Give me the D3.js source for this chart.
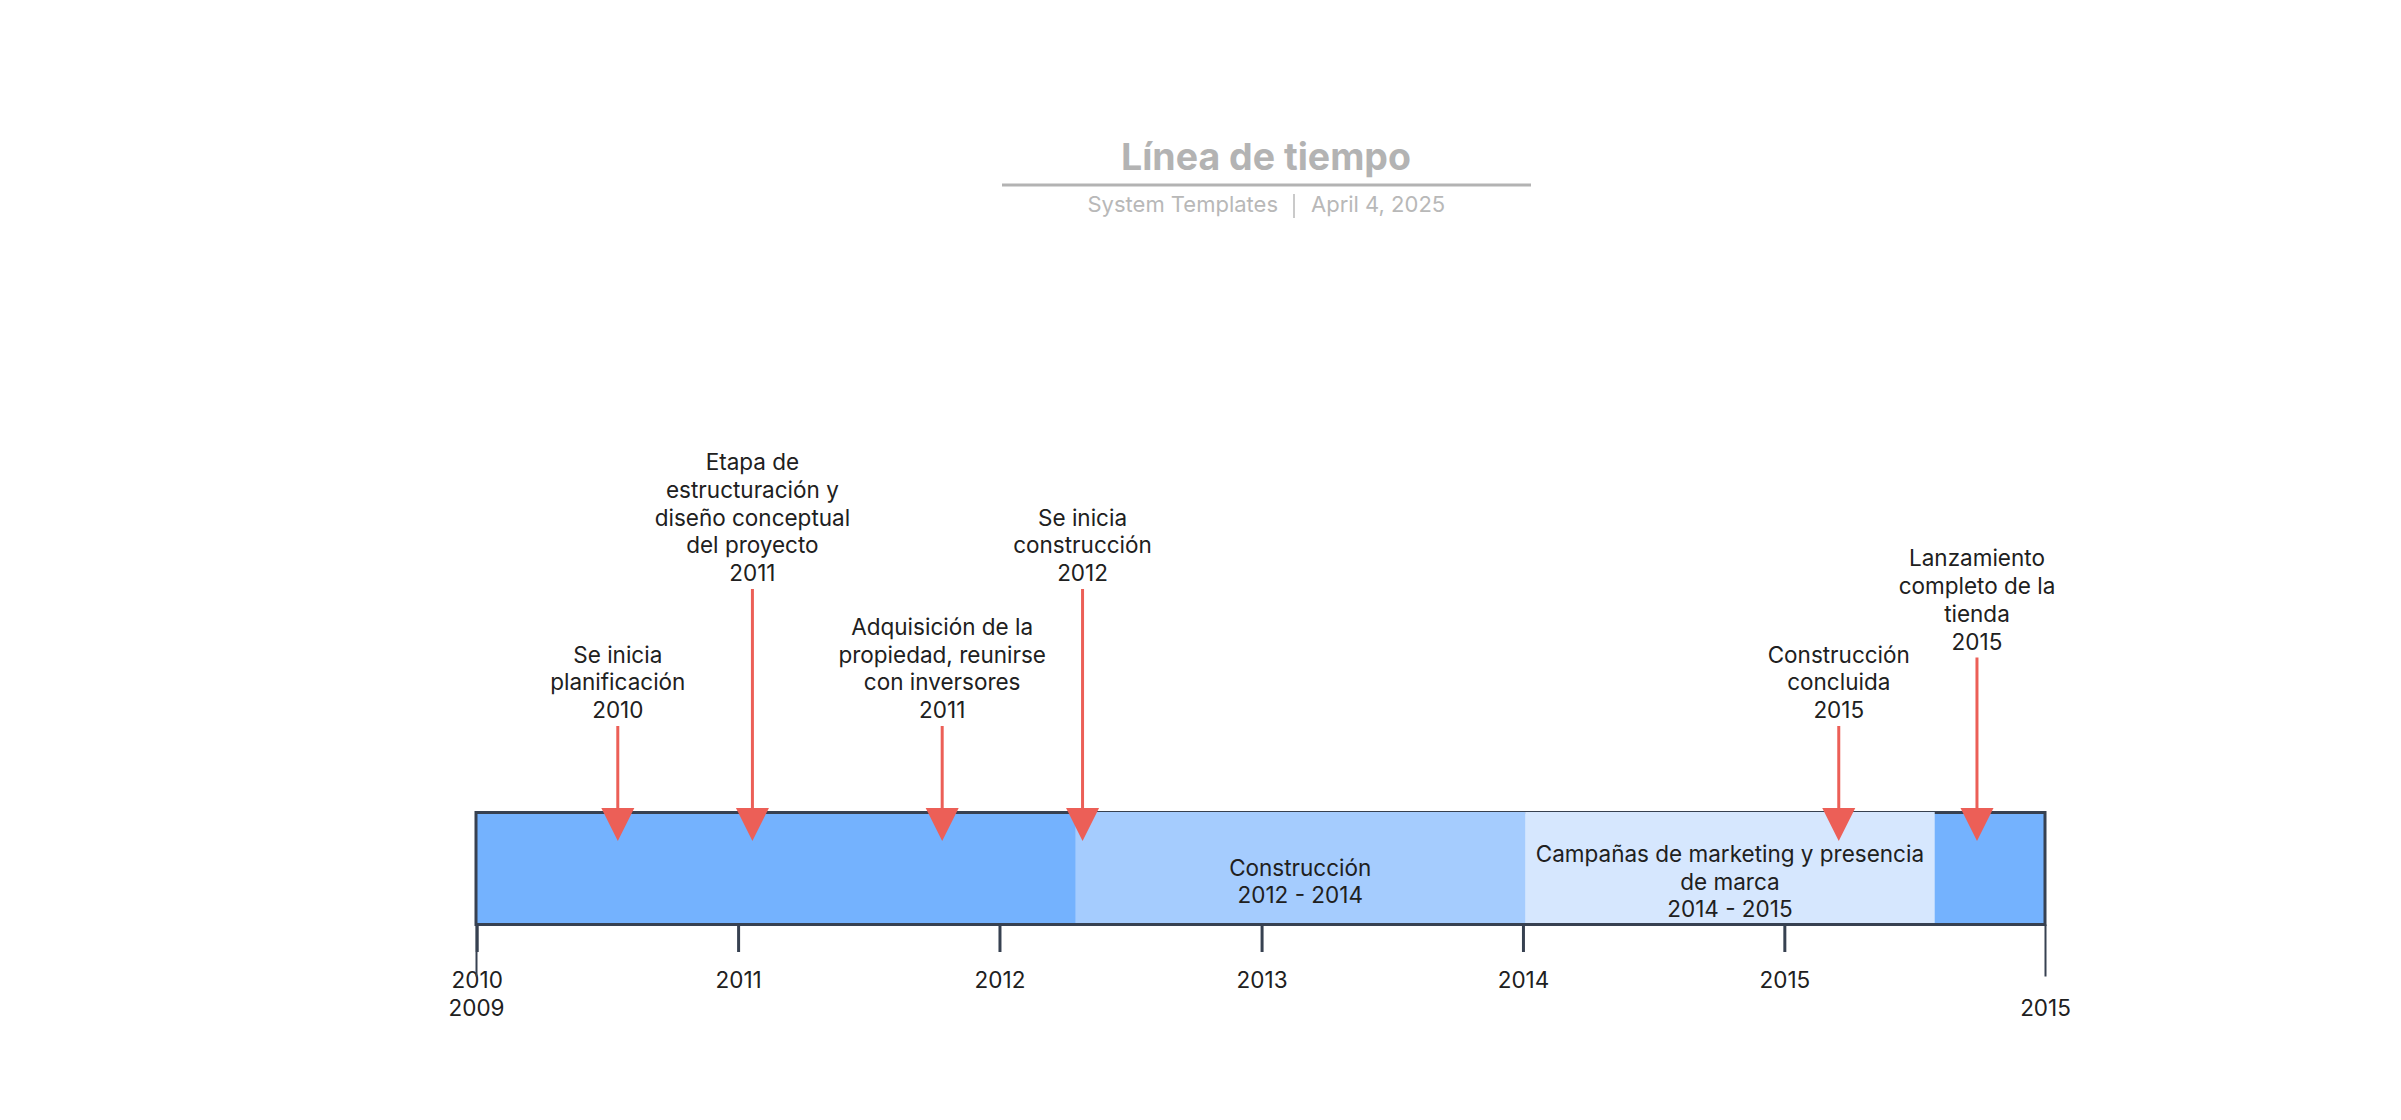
<!DOCTYPE html>
<html lang="es">
<head>
<meta charset="utf-8">
<title>Línea de tiempo</title>
<script src="https://cdn.jsdelivr.net/npm/d3@7"></script>
<style>
    html, body { margin: 0; padding: 0; background: #fff; }
    svg { display: block; font-family: Inter, "Noto Sans", sans-serif; }
</style>
</head>
<body>
<svg id="grafico" width="2401" height="1120"></svg>
<script>
/* DATOS */
const titulo = "Línea de tiempo"
const autor = "System Templates"
const fechaDoc = "April 4, 2025"

const inicioEje = "2009-12-31"
const finEje = "2015-12-31"
const anios = ["2010", "2011", "2012", "2013", "2014", "2015"]

const fasesNombre = ["Construcción", "Campañas de marketing y presencia\nde marca"]
const fasesInicio = ["2012-04-16", "2014-01-04"]
const fasesFin = ["2014-01-04", "2015-07-30"]

const hitosNombre = [
    "Se inicia\nplanificación",
    "Etapa de\nestructuración y\ndiseño conceptual\ndel proyecto",
    "Adquisición de la\npropiedad, reunirse\ncon inversores",
    "Se inicia\nconstrucción",
    "Construcción\nconcluida",
    "Lanzamiento\ncompleto de la\ntienda"
]
const hitosFecha = ["2010-07-17", "2011-01-21", "2011-10-13", "2012-04-26", "2015-03-18", "2015-09-27"]
const hitosNivel = [0, 2, 0, 2, 0, 1]

/* Colores y tipografía */
const colorBarra = "#74b2fe"
const colorFases = ["#a5ccfe", "#d6e7fe"]
const colorBorde = "#374151"
const colorHito = "#ec5f57"
const colorTexto = "#202020"
const colorTitulo = "#b3b3b3"
const tamTexto = 22.5

const svg = d3.select("#grafico")
const parse = d3.utcParse("%Y-%m-%d")
const anio = d3.utcFormat("%Y")

/* Escalas */
const x = d3.scaleUtc()
    .domain([parse(inicioEje), parse(finEje)])
    .range([476, 2045])
const barraY = 812.5
const barraAlto = 112
const nivelY = d3.scaleLinear().domain([0, 2]).range([726, 589])
const interlinea = 27.7

/*Cabecera*/
svg.append("text")
    .attr("x", 1266).attr("y", 170)
    .attr("text-anchor", "middle")
    .attr("font-size", 37.5).attr("font-weight", 700)
    .attr("fill", colorTitulo)
    .text(titulo)
svg.append("line")
    .attr("x1", 1002).attr("x2", 1531).attr("y1", 185).attr("y2", 185)
    .attr("stroke", colorTitulo).attr("stroke-width", 3)
svg.append("text")
    .attr("x", 1278).attr("y", 212)
    .attr("text-anchor", "end")
    .attr("font-size", 22).attr("fill", "#b8b8b8")
    .text(autor)
svg.append("line")
    .attr("x1", 1294).attr("x2", 1294).attr("y1", 194).attr("y2", 218)
    .attr("stroke", "#b8b8b8").attr("stroke-width", 1.5)
svg.append("text")
    .attr("x", 1311).attr("y", 212)
    .attr("font-size", 22).attr("fill", "#b8b8b8")
    .text(fechaDoc)

/*Barra base*/
svg.append("rect")
    .attr("x", x.range()[0]).attr("y", barraY)
    .attr("width", x.range()[1] - x.range()[0]).attr("height", barraAlto)
    .attr("fill", colorBarra)
    .attr("stroke", colorBorde).attr("stroke-width", 3)

/*Fases*/
const fases = fasesNombre.map((n, i) => ({
    nombre: n, inicio: parse(fasesInicio[i]), fin: parse(fasesFin[i]), color: colorFases[i]
}))

svg.selectAll("rect.fase")
    .data(fases)
    .enter().append("rect")
    .attr("class", "fase")
    .attr("x", d => x(d.inicio))
    .attr("y", barraY - 0.5)
    .attr("width", d => x(d.fin) - x(d.inicio))
    .attr("height", barraAlto - 1)
    .attr("fill", d => d.color)

fases.forEach(d => {
    let lineas = d.nombre.split("\n").concat([anio(d.inicio) + " - " + anio(d.fin)])
    let centro = barraY + barraAlto / 2 + 13
    let primera = centro - (lineas.length - 1) * interlinea / 2
    let t = svg.append("text")
        .attr("text-anchor", "middle")
        .attr("font-size", tamTexto).attr("fill", colorTexto)
    lineas.forEach((l, j) => {
        t.append("tspan")
            .attr("x", (x(d.inicio) + x(d.fin)) / 2)
            .attr("y", primera + j * interlinea + 8)
            .text(l)
    })
})

/*Eje de años*/
const ejeAnios = d3.axisBottom(x)
    .tickValues(anios.map(a => parse(a + "-01-01")))
    .tickFormat(anio)
    .tickSize(27.5)
const gEje = svg.append("g")
    .attr("transform", `translate(0,${barraY + barraAlto})`)
    .call(ejeAnios)
gEje.select(".domain").remove()
gEje.selectAll(".tick line").attr("stroke", colorBorde).attr("stroke-width", 3)
gEje.selectAll(".tick text")
    .attr("y", 63.5).attr("dy", null)
    .attr("font-size", tamTexto).attr("font-family", "Inter, sans-serif")
    .attr("fill", colorTexto)

/*Extremos del eje*/
const ejeExtremos = d3.axisBottom(x)
    .tickValues(x.domain())
    .tickFormat(anio)
    .tickSize(52)
const gExt = svg.append("g")
    .attr("transform", `translate(0,${barraY + barraAlto})`)
    .call(ejeExtremos)
gExt.select(".domain").remove()
gExt.selectAll(".tick line").attr("stroke", colorBorde).attr("stroke-width", 2)
gExt.selectAll(".tick text")
    .attr("y", 91.5).attr("dy", null)
    .attr("font-size", tamTexto).attr("font-family", "Inter, sans-serif")
    .attr("fill", colorTexto)

/*Hitos*/
const hitos = hitosNombre.map((n, i) => ({
    nombre: n, fecha: parse(hitosFecha[i]), nivel: hitosNivel[i]
}))
const puntaY = barraY - 4.5
const gHitos = svg.selectAll("g.hito")
    .data(hitos)
    .enter().append("g")
    .attr("class", "hito")

gHitos.append("line")
    .attr("x1", d => x(d.fecha)).attr("x2", d => x(d.fecha))
    .attr("y1", d => nivelY(d.nivel)).attr("y2", puntaY + 2)
    .attr("stroke", colorHito).attr("stroke-width", 3)

gHitos.append("path")
    .attr("d", d => {
        let p = d3.path()
        p.moveTo(x(d.fecha) - 16.5, puntaY)
        p.lineTo(x(d.fecha) + 16.5, puntaY)
        p.lineTo(x(d.fecha), puntaY + 33)
        p.closePath()
        return p.toString()
    })
    .attr("fill", colorHito)

gHitos.each(function (d) {
    let lineas = d.nombre.split("\n").concat([anio(d.fecha)])
    let ultima = nivelY(d.nivel) - 16
    let t = d3.select(this).append("text")
        .attr("text-anchor", "middle")
        .attr("font-size", tamTexto).attr("fill", colorTexto)
    lineas.forEach((l, j) => {
        t.append("tspan")
            .attr("x", x(d.fecha))
            .attr("y", ultima - (lineas.length - 1 - j) * interlinea + 8)
            .text(l)
    })
})
</script>
</body>
</html>
